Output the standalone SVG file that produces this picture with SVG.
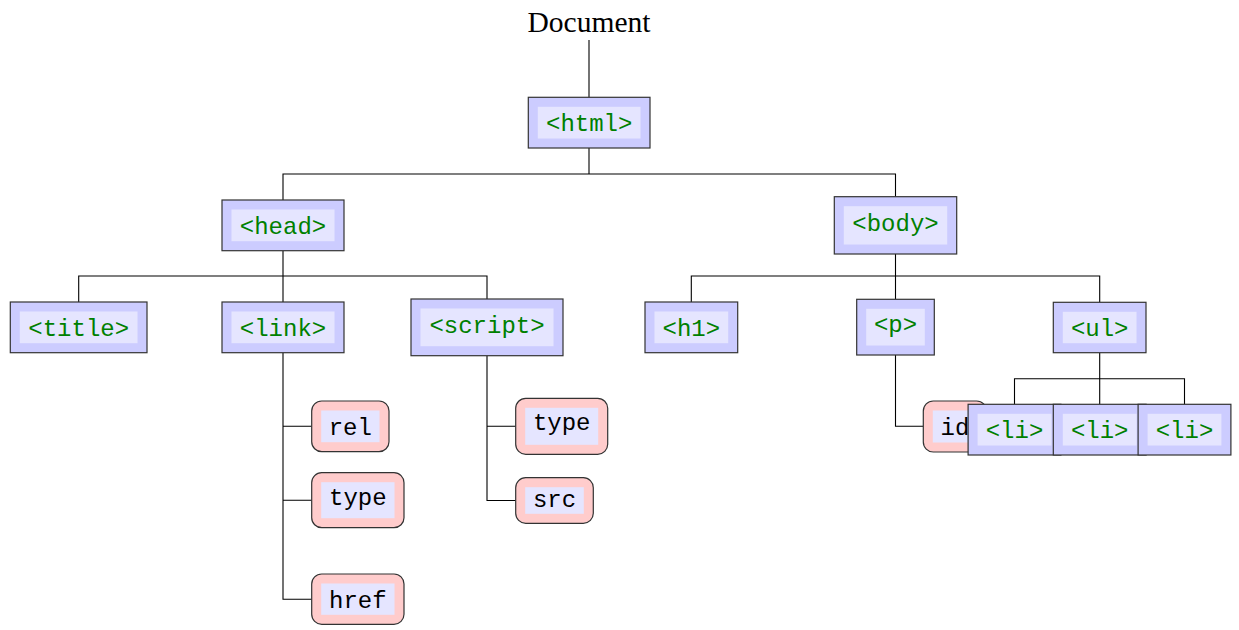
<svg xmlns="http://www.w3.org/2000/svg" width="1239" height="630" viewBox="0 0 1239 630">
  <style>
    .tag-outer { fill: #ccccff; stroke: #333333; stroke-width: 1.2; }
    .att-outer { fill: #ffcccc; stroke: #333333; stroke-width: 1.2; }
    .inner { fill: #e5e5ff; stroke: none; }
    .tag-text { font-family: "Liberation Mono", "DejaVu Sans Mono", monospace; font-size: 24px; fill: #008000; text-anchor: middle; }
    .att-text { font-family: "Liberation Mono", "DejaVu Sans Mono", monospace; font-size: 24px; fill: #000000; text-anchor: middle; }
    .root-text { font-family: "Liberation Serif", "DejaVu Serif", serif; font-size: 29px; fill: #000000; text-anchor: middle; }
    .edge { fill: none; stroke: #000000; stroke-width: 1.1; }
  </style>

  <!-- tree edges -->
  <g id="connectors">
    <path class="edge" d="M589,40 V97.3"/>
    <path class="edge" d="M589,148 V174 M283,200 V174 H895.5 V196.7"/>
    <path class="edge" d="M283,251 V276 M78.7,302 V276 H487 V299 M283,276 V302"/>
    <path class="edge" d="M895.5,254 V276 M691.3,302 V276 H1099.7 V302.3 M895.5,276 V299.3"/>
    <path class="edge" d="M1099.7,352.7 V378.7 M1014.5,404.3 V378.7 H1184.5 V404.3 M1099.7,378.7 V404.3"/>
    <path class="edge" d="M283,353 V599.3 H311.7 M283,426.3 H311.7 M283,500.2 H311.7"/>
    <path class="edge" d="M487,356 V500.5 H515.7 M487,426.3 H515.7"/>
    <path class="edge" d="M895.5,355 V426.3 H923.3"/>
  </g>

  <g id="document">
    <text class="root-text" x="589" y="31.7" textLength="123" lengthAdjust="spacingAndGlyphs">Document</text>
  </g>

  <g id="html">
    <rect class="tag-outer" x="528.3" y="97.3" width="121.7" height="50.7"/>
    <rect class="inner" x="537.8" y="106.8" width="102.7" height="31.7"/>
    <text class="tag-text" x="589.2" y="130.8">&lt;html&gt;</text>
  </g>

  <g id="head">
    <rect class="tag-outer" x="222" y="200" width="122" height="50.7"/>
    <rect class="inner" x="231.5" y="209.5" width="103" height="31.7"/>
    <text class="tag-text" x="283" y="233.6">&lt;head&gt;</text>
  </g>

  <g id="body">
    <rect class="tag-outer" x="834.3" y="196.7" width="122.4" height="57.3"/>
    <rect class="inner" x="843.8" y="206.2" width="103.4" height="38.3"/>
    <text class="tag-text" x="895.5" y="230.5">&lt;body&gt;</text>
  </g>

  <g id="title">
    <rect class="tag-outer" x="10.3" y="302" width="136.7" height="50.7"/>
    <rect class="inner" x="19.8" y="311.5" width="117.7" height="31.7"/>
    <text class="tag-text" x="78.7" y="335.6">&lt;title&gt;</text>
  </g>

  <g id="link">
    <rect class="tag-outer" x="222" y="302" width="122" height="50.7"/>
    <rect class="inner" x="231.5" y="311.5" width="103" height="31.7"/>
    <text class="tag-text" x="283" y="335.6">&lt;link&gt;</text>
  </g>

  <g id="script">
    <rect class="tag-outer" x="411" y="299" width="152" height="56.7"/>
    <rect class="inner" x="420.5" y="308.5" width="133" height="37.7"/>
    <text class="tag-text" x="487" y="332.8">&lt;script&gt;</text>
  </g>

  <g id="h1">
    <rect class="tag-outer" x="645" y="302" width="92.7" height="50.7"/>
    <rect class="inner" x="654.5" y="311.5" width="73.7" height="31.7"/>
    <text class="tag-text" x="691.3" y="335.6">&lt;h1&gt;</text>
  </g>

  <g id="p">
    <rect class="tag-outer" x="856.7" y="299.3" width="77.6" height="55.7"/>
    <rect class="inner" x="866.2" y="308.8" width="58.6" height="36.7"/>
    <text class="tag-text" x="895.5" y="332">&lt;p&gt;</text>
  </g>

  <g id="ul">
    <rect class="tag-outer" x="1053.3" y="302.3" width="92.7" height="50.4"/>
    <rect class="inner" x="1062.8" y="311.8" width="73.7" height="31.4"/>
    <text class="tag-text" x="1099.7" y="335.9">&lt;ul&gt;</text>
  </g>

  <g id="attr-rel">
    <rect class="att-outer" x="311.7" y="401" width="77.3" height="50.7" rx="10"/>
    <rect class="inner" x="321.2" y="410.5" width="58.3" height="31.7"/>
    <text class="att-text" x="350.3" y="434.7">rel</text>
  </g>

  <g id="attr-link-type">
    <rect class="att-outer" x="311.7" y="472.7" width="92.3" height="55" rx="10"/>
    <rect class="inner" x="321.2" y="482.2" width="73.3" height="36"/>
    <text class="att-text" x="357.8" y="504.7">type</text>
  </g>

  <g id="attr-href">
    <rect class="att-outer" x="311.7" y="574" width="92.3" height="50.3" rx="10"/>
    <rect class="inner" x="321.2" y="583.5" width="73.3" height="31.3"/>
    <text class="att-text" x="357.8" y="607.6">href</text>
  </g>

  <g id="attr-script-type">
    <rect class="att-outer" x="515.7" y="398.3" width="92" height="56" rx="10"/>
    <rect class="inner" x="525.2" y="407.8" width="73" height="37"/>
    <text class="att-text" x="561.7" y="430.3">type</text>
  </g>

  <g id="attr-src">
    <rect class="att-outer" x="515.7" y="477.7" width="77.6" height="45.6" rx="10"/>
    <rect class="inner" x="525.2" y="487.2" width="58.6" height="26.6"/>
    <text class="att-text" x="554.5" y="506.5">src</text>
  </g>

  <g id="attr-id">
    <rect class="att-outer" x="923.3" y="401" width="63.3" height="51" rx="10"/>
    <rect class="inner" x="932.8" y="410.5" width="44.3" height="32"/>
    <text class="att-text" x="955" y="434.7">id</text>
  </g>

  <g id="li-1">
    <rect class="tag-outer" x="968.1" y="404.3" width="92.8" height="50.7"/>
    <rect class="inner" x="977.6" y="413.8" width="73.8" height="31.7"/>
    <text class="tag-text" x="1014.5" y="437.9">&lt;li&gt;</text>
  </g>

  <g id="li-2">
    <rect class="tag-outer" x="1053.3" y="404.3" width="92.8" height="50.7"/>
    <rect class="inner" x="1062.8" y="413.8" width="73.8" height="31.7"/>
    <text class="tag-text" x="1099.7" y="437.9">&lt;li&gt;</text>
  </g>

  <g id="li-3">
    <rect class="tag-outer" x="1138.1" y="404.3" width="92.8" height="50.7"/>
    <rect class="inner" x="1147.6" y="413.8" width="73.8" height="31.7"/>
    <text class="tag-text" x="1184.5" y="437.9">&lt;li&gt;</text>
  </g>
</svg>
